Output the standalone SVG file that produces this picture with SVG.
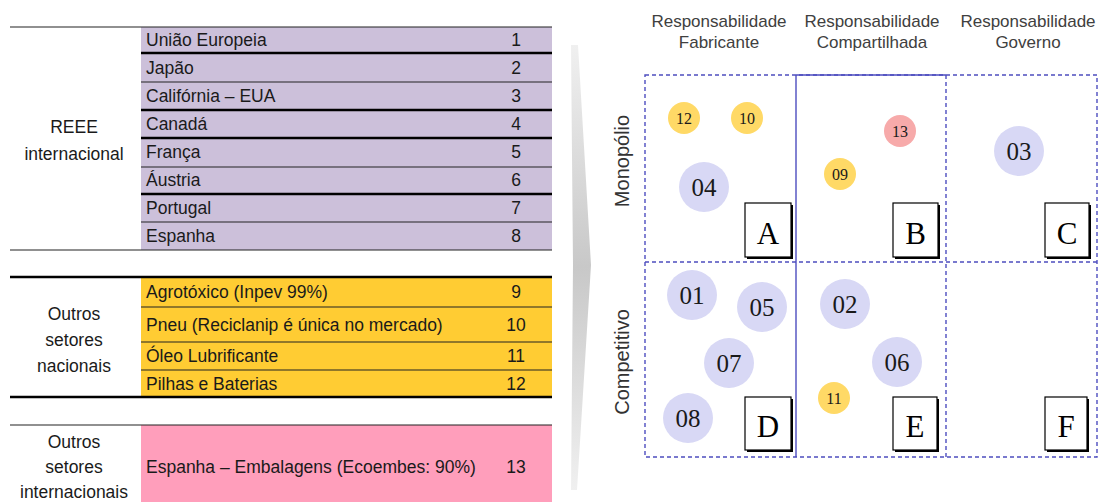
<svg xmlns="http://www.w3.org/2000/svg" width="1100" height="502" viewBox="0 0 1100 502">
<style>
.t{font-family:"Liberation Sans",Arial,sans-serif;font-size:17.5px;fill:#1a1a1a}
.n{text-anchor:middle}
.h{font-family:"Liberation Sans",Arial,sans-serif;font-size:17px;fill:#404040;text-anchor:middle}
.r{font-family:"Liberation Sans",Arial,sans-serif;font-size:20px;fill:#333;text-anchor:middle}
.thick{stroke:#000;stroke-width:2.6}
.thin{stroke:#222;stroke-width:1.2}
.grid{fill:none;stroke:#4d4dbf;stroke-width:1.4;stroke-dasharray:4 3}
.solid{fill:none;stroke:#4d4dbf;stroke-width:1.4}
.lav{fill:#d8d8f5}
.yel{fill:#ffd966}
.pnk{fill:#f7aaaa}
.big{font-family:"Liberation Serif","Times New Roman",serif;font-size:25px;fill:#1a1a1a;text-anchor:middle}
.sm{font-family:"Liberation Serif","Times New Roman",serif;font-size:16px;fill:#1a1a1a;text-anchor:middle}
.box{fill:#fff;stroke:#000;stroke-width:1.2}
.shd{fill:#000}
.let{font-family:"Liberation Serif","Times New Roman",serif;font-size:31px;fill:#000;text-anchor:middle}
</style>
<defs>
<linearGradient id="gr" x1="0" y1="0" x2="0" y2="1">
<stop offset="0" stop-color="#f0f0f0"/>
<stop offset="0.5" stop-color="#c8c8c8"/>
<stop offset="1" stop-color="#f0f0f0"/>
</linearGradient>
</defs>
<rect width="1100" height="502" fill="#fff"/>

<!-- Table: REEE internacional -->
<g id="reee">
<rect x="141" y="27" width="411" height="223" fill="#ccc0da"/>
<line class="thin" x1="10" y1="27" x2="552" y2="27"/>
<line class="thick" x1="141" y1="53" x2="552" y2="53"/>
<line class="thin" x1="141" y1="82" x2="552" y2="82"/>
<line class="thick" x1="141" y1="110" x2="552" y2="110"/>
<line class="thick" x1="141" y1="138" x2="552" y2="138"/>
<line class="thin" x1="141" y1="167" x2="552" y2="167"/>
<line class="thick" x1="141" y1="194" x2="552" y2="194"/>
<line class="thin" x1="141" y1="222" x2="552" y2="222"/>
<line class="thin" x1="10" y1="250" x2="552" y2="250"/>
<text class="t n" x="74" y="133">REEE</text>
<text class="t n" x="74" y="160">internacional</text>
<text class="t" x="146" y="46">União Europeia</text>
<text class="t" x="146" y="74">Japão</text>
<text class="t" x="146" y="102">Califórnia – EUA</text>
<text class="t" x="146" y="130">Canadá</text>
<text class="t" x="146" y="158">França</text>
<text class="t" x="146" y="186">Áustria</text>
<text class="t" x="146" y="214">Portugal</text>
<text class="t" x="146" y="242">Espanha</text>
<text class="t n" x="516" y="46">1</text>
<text class="t n" x="516" y="74">2</text>
<text class="t n" x="516" y="102">3</text>
<text class="t n" x="516" y="130">4</text>
<text class="t n" x="516" y="158">5</text>
<text class="t n" x="516" y="186">6</text>
<text class="t n" x="516" y="214">7</text>
<text class="t n" x="516" y="242">8</text>
</g>

<!-- Table: Outros setores nacionais -->
<g id="nacionais">
<rect x="141" y="277" width="411" height="120" fill="#ffcc33"/>
<line class="thick" x1="10" y1="277" x2="552" y2="277"/>
<line class="thin" x1="141" y1="307" x2="552" y2="307"/>
<line class="thin" x1="141" y1="342" x2="552" y2="342"/>
<line class="thin" x1="141" y1="370" x2="552" y2="370"/>
<line class="thick" x1="10" y1="397" x2="552" y2="397"/>
<text class="t n" x="74" y="320">Outros</text>
<text class="t n" x="74" y="346">setores</text>
<text class="t n" x="74" y="372">nacionais</text>
<text class="t" x="146" y="298">Agrotóxico (Inpev 99%)</text>
<text class="t" x="146" y="331">Pneu (Reciclanip é única no mercado)</text>
<text class="t" x="146" y="362">Óleo Lubrificante</text>
<text class="t" x="146" y="390">Pilhas e Baterias</text>
<text class="t n" x="516" y="298">9</text>
<text class="t n" x="516" y="331">10</text>
<text class="t n" x="516" y="362">11</text>
<text class="t n" x="516" y="390">12</text>
</g>

<!-- Table: Outros setores internacionais -->
<g id="internacionais">
<rect x="141" y="425" width="411" height="77" fill="#ff9ebb"/>
<line class="thin" x1="10" y1="425" x2="552" y2="425"/>
<text class="t n" x="74" y="448">Outros</text>
<text class="t n" x="74" y="473">setores</text>
<text class="t n" x="74" y="498">internacionais</text>
<text class="t" x="146" y="473">Espanha – Embalagens (Ecoembes: 90%)</text>
<text class="t n" x="516" y="473">13</text>
</g>

<!-- Chevron -->
<g id="chevron">
<polygon points="571,45 578,45 591,265 577,490 571,490 573,265" fill="url(#gr)"/>
</g>

<!-- Headers -->
<g id="headers">
<text class="h" x="719" y="27">Responsabilidade</text>
<text class="h" x="719" y="48">Fabricante</text>
<text class="h" x="872" y="27">Responsabilidade</text>
<text class="h" x="872" y="48">Compartilhada</text>
<text class="h" x="1028" y="27">Responsabilidade</text>
<text class="h" x="1028" y="48">Governo</text>
<text class="r" transform="translate(629,161) rotate(-90)">Monopólio</text>
<text class="r" transform="translate(629,362) rotate(-90)">Competitivo</text>
</g>

<!-- Grid -->
<g id="grid">
<rect class="grid" x="645" y="75" width="452" height="382"/>
<line class="grid" x1="645" y1="262" x2="1097" y2="262"/>
<line class="grid" x1="946" y1="75" x2="946" y2="457"/>
<line class="solid" x1="796" y1="75" x2="796" y2="457"/>
<line class="solid" x1="796" y1="75" x2="946" y2="75"/>
</g>

<!-- Quadrant boxes -->
<g id="boxA"><rect class="shd" x="747" y="205" width="46" height="54"/><rect class="box" x="745" y="203" width="46" height="54"/><text class="let" x="768" y="244">A</text></g>
<g id="boxB"><rect class="shd" x="895" y="205" width="45" height="54"/><rect class="box" x="893" y="203" width="45" height="54"/><text class="let" x="915.5" y="244">B</text></g>
<g id="boxC"><rect class="shd" x="1047" y="205" width="44" height="54"/><rect class="box" x="1045" y="203" width="44" height="54"/><text class="let" x="1067" y="244">C</text></g>
<g id="boxD"><rect class="shd" x="747" y="399" width="46" height="53"/><rect class="box" x="745" y="397" width="46" height="53"/><text class="let" x="768" y="437">D</text></g>
<g id="boxE"><rect class="shd" x="895" y="399" width="44" height="53"/><rect class="box" x="893" y="397" width="44" height="53"/><text class="let" x="915" y="437">E</text></g>
<g id="boxF"><rect class="shd" x="1047" y="399" width="42" height="53"/><rect class="box" x="1045" y="397" width="42" height="53"/><text class="let" x="1066" y="437">F</text></g>

<!-- Circles -->
<g id="c12"><circle class="yel" cx="684" cy="118" r="16"/><text class="sm" x="684" y="124">12</text></g>
<g id="c10"><circle class="yel" cx="747" cy="118" r="16"/><text class="sm" x="747" y="124">10</text></g>
<g id="c04"><circle class="lav" cx="704" cy="187" r="25"/><text class="big" x="704" y="196">04</text></g>
<g id="c09"><circle class="yel" cx="840" cy="174" r="16"/><text class="sm" x="840" y="180">09</text></g>
<g id="c13"><circle class="pnk" cx="900" cy="131" r="16"/><text class="sm" x="900" y="137">13</text></g>
<g id="c03"><circle class="lav" cx="1019" cy="151" r="25"/><text class="big" x="1019" y="160">03</text></g>
<g id="c01"><circle class="lav" cx="692" cy="295" r="25"/><text class="big" x="692" y="304">01</text></g>
<g id="c05"><circle class="lav" cx="762" cy="307" r="25"/><text class="big" x="762" y="316">05</text></g>
<g id="c07"><circle class="lav" cx="729" cy="363" r="25"/><text class="big" x="729" y="372">07</text></g>
<g id="c08"><circle class="lav" cx="688" cy="418" r="25"/><text class="big" x="688" y="427">08</text></g>
<g id="c02"><circle class="lav" cx="845" cy="304" r="25"/><text class="big" x="845" y="313">02</text></g>
<g id="c06"><circle class="lav" cx="897" cy="362" r="25"/><text class="big" x="897" y="371">06</text></g>
<g id="c11"><circle class="yel" cx="834" cy="398" r="16"/><text class="sm" x="834" y="404">11</text></g>
</svg>
